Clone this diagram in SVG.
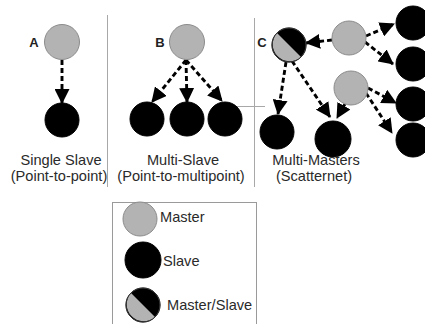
<svg xmlns="http://www.w3.org/2000/svg" width="425" height="324" viewBox="0 0 425 324">
<defs>
<marker id="ah" markerUnits="userSpaceOnUse" markerWidth="15" markerHeight="15" viewBox="0 0 15 15" refX="14" refY="7.5" orient="auto">
<path d="M0,0 L15,7.5 L0,15 Z" fill="#000"/>
</marker>
</defs>
<style>
.m{fill:#b3b3b3;stroke:#8c8c8c;stroke-width:1}
.s{fill:#000;stroke:#000;stroke-width:1}
.g{fill:#b3b3b3}
.k{fill:#000;stroke:#222;stroke-width:1}
.e{fill:none;stroke:#000;stroke-width:2.9;stroke-dasharray:5 3;marker-end:url(#ah)}
.div{stroke:#a8a8a8;stroke-width:1;fill:none}
.t{font-family:"Liberation Sans",Arial,sans-serif;font-size:14.6px;fill:#2a2a2a;text-anchor:middle}
.lt{font-family:"Liberation Sans",Arial,sans-serif;font-size:14.6px;fill:#2a2a2a}
.lb{font-family:"Liberation Sans",Arial,sans-serif;font-size:13px;font-weight:bold;fill:#222;text-anchor:middle}
</style>
<rect width="425" height="324" fill="#fff"/>
<g id="dividers">
<line class="div" x1="107.5" y1="15" x2="107.5" y2="187"/>
<line class="div" x1="254.5" y1="18" x2="254.5" y2="187"/>
<line class="div" x1="222" y1="106.5" x2="265" y2="106.5"/>
</g>
<g id="connectors">
<line class="e" x1="62" y1="60" x2="62" y2="103"/>
<line class="e" x1="186" y1="60" x2="152" y2="102"/>
<line class="e" x1="186" y1="60" x2="187" y2="102"/>
<line class="e" x1="186" y1="60" x2="222" y2="101"/>
<line class="e" x1="332" y1="40" x2="306" y2="43"/>
<line class="e" x1="366" y1="36" x2="394" y2="24"/>
<line class="e" x1="365" y1="42" x2="393" y2="64"/>
<line class="e" x1="286" y1="62" x2="278" y2="114"/>
<line class="e" x1="292" y1="61" x2="330" y2="117"/>
<line class="e" x1="345" y1="104" x2="337" y2="118"/>
<line class="e" x1="368" y1="88" x2="396" y2="103"/>
<line class="e" x1="366" y1="93" x2="392" y2="133"/>
</g>
<g id="nodeA">
<text class="lb" x="34" y="47">A</text>
<circle class="m" cx="62" cy="42" r="17.5"/>
</g>
<g id="slaveA"><circle class="s" cx="62" cy="120" r="17"/></g>
<g id="nodeB">
<text class="lb" x="160" y="47">B</text>
<circle class="m" cx="187" cy="42" r="17.5"/>
</g>
<g id="slaveB1"><circle class="s" cx="147" cy="119" r="17"/></g>
<g id="slaveB2"><circle class="s" cx="187" cy="119" r="17"/></g>
<g id="slaveB3"><circle class="s" cx="225" cy="119" r="17"/></g>
<g id="nodeC">
<text class="lb" x="262" y="47">C</text>
<circle class="k" cx="289" cy="45" r="17"/>
<path class="g" d="M277,33 A17,17 0 0 0 301,57 Z"/>
<circle cx="289" cy="45" r="17" fill="none" stroke="#333" stroke-width="1"/>
</g>
<g id="master2"><circle class="m" cx="349" cy="38" r="17"/></g>
<g id="master3"><circle class="m" cx="351" cy="88" r="17"/></g>
<g id="slaveC1"><circle class="s" cx="277" cy="132" r="17"/></g>
<g id="slaveC2"><circle class="s" cx="333" cy="139" r="18"/></g>
<g id="slaveR1"><circle class="s" cx="413" cy="23" r="17"/></g>
<g id="slaveR2"><circle class="s" cx="413" cy="64" r="17"/></g>
<g id="slaveR3"><circle class="s" cx="413" cy="104" r="17"/></g>
<g id="slaveR4"><circle class="s" cx="413" cy="140" r="17"/></g>
<g id="captions">
<text class="t" x="61" y="165">Single Slave</text>
<text class="t" x="59" y="181">(Point-to-point)</text>
<text class="t" x="183" y="165">Multi-Slave</text>
<text class="t" x="181" y="181">(Point-to-multipoint)</text>
<text class="t" x="316" y="165">Multi-Masters</text>
<text class="t" x="314" y="181">(Scatternet)</text>
</g>
<g id="legend">
<rect x="112.5" y="202.5" width="144" height="140" fill="none" stroke="#9a9a9a" stroke-width="1"/>
<circle class="m" cx="140" cy="219" r="17"/>
<text class="lt" x="160" y="222">Master</text>
<circle class="s" cx="143" cy="260" r="18"/>
<text class="lt" x="163" y="266">Slave</text>
<circle class="k" cx="143" cy="305" r="17"/>
<path class="g" d="M131,293 A17,17 0 0 0 155,317 Z"/>
<circle cx="143" cy="305" r="17" fill="none" stroke="#333" stroke-width="1"/>
<text class="lt" x="167" y="310">Master/Slave</text>
</g>
</svg>
